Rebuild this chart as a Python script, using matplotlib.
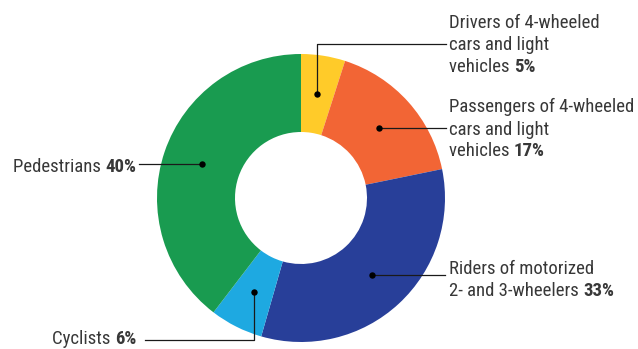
import matplotlib
matplotlib.use("Agg")
import matplotlib.pyplot as plt
import numpy as np

# Road traffic deaths by road user type (%)
categories = [
    "Drivers of 4-wheeled cars and light vehicles",
    "Passengers of 4-wheeled cars and light vehicles",
    "Riders of motorized 2- and 3-wheelers",
    "Cyclists",
    "Pedestrians",
]
shares = [5, 17, 33, 6, 40]
colors = ["#FFCB29", "#F26535", "#283F99", "#1EA9E1", "#199B50"]

label_lines = [
    ["Drivers of 4-wheeled", "cars and light", "vehicles"],
    ["Passengers of 4-wheeled", "cars and light", "vehicles"],
    ["Riders of motorized", "2- and 3-wheelers"],
    ["Cyclists"],
    ["Pedestrians"],
]
pct_labels = [f"{v}%" for v in shares]

W, H = 638, 349
fig = plt.figure(figsize=(W / 100, H / 100), dpi=100)
ax = fig.add_axes([0, 0, 1, 1])

FONT = ["Roboto Condensed", "DejaVu Sans"]
TXT = "#383838"
LINE = "#1a1a1a"
FS = 13.5

cx, cy = 301, H - 198
R_OUT, R_IN = 144, 66

wedges, _ = ax.pie(
    shares, colors=colors, startangle=90, counterclock=False,
    radius=R_OUT, center=(cx, cy),
    wedgeprops=dict(width=R_OUT - R_IN, linewidth=0),
)
ax.set_xlim(0, W)
ax.set_ylim(0, H)
ax.set_aspect("equal")
ax.axis("off")

# anchor dot in the middle of each ring segment
r_mid = (R_OUT + R_IN) / 2
dots = []
for w in wedges:
    ang = np.deg2rad((w.theta1 + w.theta2) / 2)
    dots.append((cx + r_mid * np.cos(ang), cy + r_mid * np.sin(ang)))


def py(v):
    return H - v


def label(x, baselines, lines, pct, ha="left"):
    for i, (ln, b) in enumerate(zip(lines, baselines)):
        last = i == len(lines) - 1
        if last and ha == "right":
            # bold value at the right edge, text to its left
            t_b = ax.text(x, py(b), pct, ha="right", va="baseline",
                          fontsize=FS, family=FONT, weight="bold", color=TXT)
            ax.annotate(ln + " ", xy=(0, 0), xycoords=t_b, ha="right",
                        va="bottom", fontsize=FS, family=FONT, color=TXT)
        else:
            t = ax.text(x, py(b), ln + (" " if last else ""), ha=ha,
                        va="baseline", fontsize=FS, family=FONT, color=TXT)
            if last:
                ax.annotate(pct, xy=(1, 0), xycoords=t, ha="left",
                            va="bottom", fontsize=FS, family=FONT,
                            weight="bold", color=TXT)


TX = 449
# Drivers
label(TX, [27.5, 50, 71.5], label_lines[0], pct_labels[0])
d = dots[0]
ax.plot([d[0], d[0], 446], [d[1], py(43.5), py(43.5)], color=LINE, lw=0.9)
# Passengers
label(TX, [112, 135, 156.5], label_lines[1], pct_labels[1])
d = dots[1]
ax.plot([d[0], 446], [d[1], d[1]], color=LINE, lw=0.9)
# Riders
label(TX, [273.5, 295.5], label_lines[2], pct_labels[2])
d = dots[2]
ax.plot([d[0], 445], [d[1], d[1]], color=LINE, lw=0.9)
# Cyclists
label(136, [344.5], label_lines[3], pct_labels[3], ha="right")
d = dots[3]
ax.plot([145, d[0], d[0]], [py(340), py(340), d[1]], color=LINE, lw=0.9)
# Pedestrians
label(136, [172.5], label_lines[4], pct_labels[4], ha="right")
d = dots[4]
ax.plot([139, d[0]], [d[1], d[1]], color=LINE, lw=0.9)

for d in dots:
    ax.plot(d[0], d[1], "o", color="black", ms=4.6, mew=0)

fig.savefig("out.png", dpi=100)
